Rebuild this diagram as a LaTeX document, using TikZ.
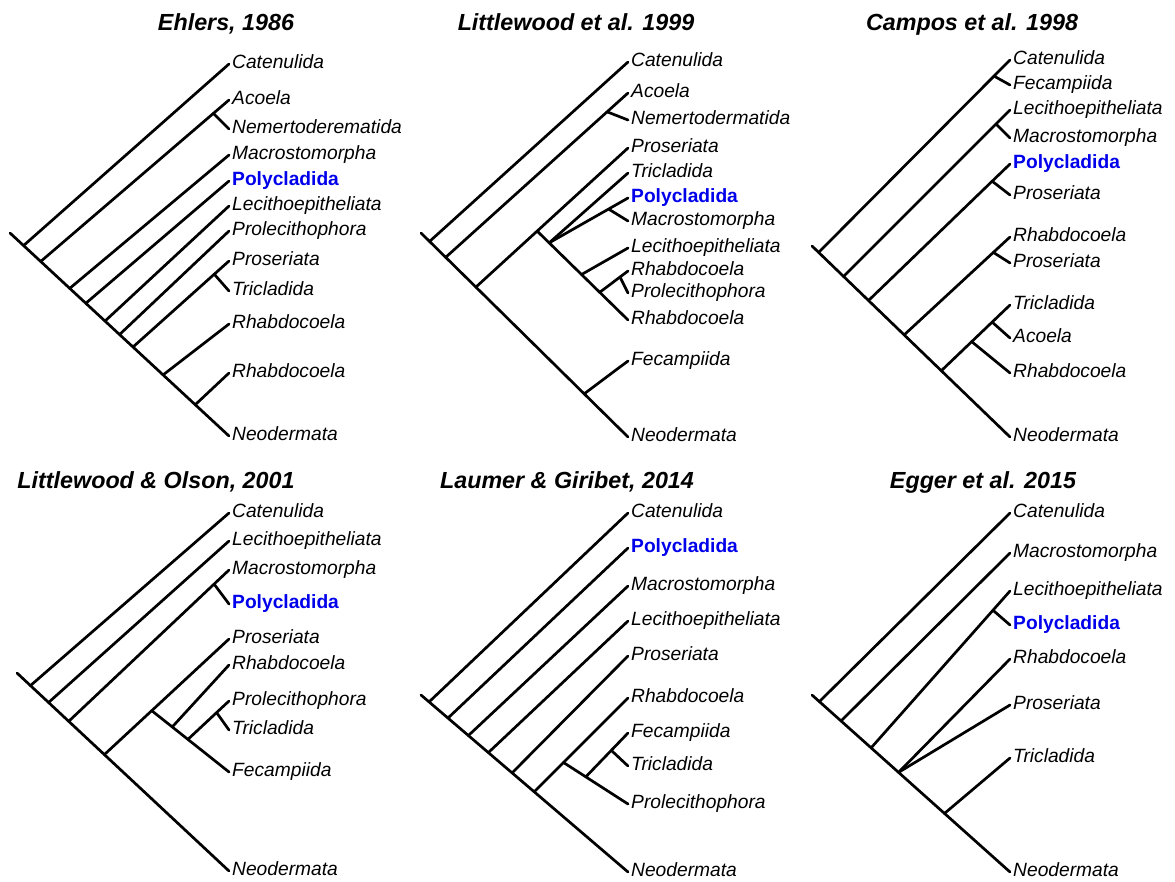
\documentclass[tikz,border=0pt]{standalone}
\usepackage{fontspec}
\setmainfont{Liberation Sans}
\usepackage{xcolor}
\usepackage{tikz}
\usetikzlibrary{calc}
\definecolor{polyblue}{RGB}{0,0,235}
\tikzset{
  taxon/.style={anchor=west, inner xsep=3pt, inner ysep=0pt, text height=13.8pt, text depth=4pt, font=\fontsize{19.2}{23}\selectfont\itshape},
  focal/.style={taxon, text=polyblue, font=\fontsize{19.2}{23}\selectfont\bfseries},
  study/.style={inner sep=0pt, text height=16.8pt, text depth=0pt, font=\fontsize{23.3}{28}\selectfont\bfseries\itshape},
  branch/.style={line width=2.7pt, line cap=round, line join=round},
}
\begin{document}
\begin{tikzpicture}[x=1pt, y=-1pt]
  \useasboundingbox (0,0) rectangle (1175,881);

  % Ehlers, 1986
  \node[study] (a-ttl) at (226,22) {Ehlers, 1986};
  \coordinate (a-root) at (10,233);
  \node[taxon] (a-cat) at (229,64) {Catenulida};
  \node[taxon] (a-aco) at (229,100) {Acoela};
  \node[taxon] (a-nem) at (229,129) {Nemertoderematida};
  \node[taxon] (a-mac) at (229,155) {Macrostomorpha};
  \node[focal] (a-pol) at (229,181) {Polycladida};
  \node[taxon] (a-lec) at (229,206) {Lecithoepitheliata};
  \node[taxon] (a-prl) at (229,231) {Prolecithophora};
  \node[taxon] (a-pro) at (229,261) {Proseriata};
  \node[taxon] (a-tri) at (229,291) {Tricladida};
  \node[taxon] (a-rh1) at (229,324) {Rhabdocoela};
  \node[taxon] (a-rh2) at (229,373) {Rhabdocoela};
  \node[taxon] (a-neo) at (229,436) {Neodermata};
  \coordinate (a1) at ($(a-root)!(25,244)!(a-neo.west)$);
  \coordinate (a2) at ($(a-root)!(43,259)!(a-neo.west)$);
  \coordinate (a3) at ($(a-root)!(71,287)!(a-neo.west)$);
  \coordinate (a4) at ($(a-root)!(87,302)!(a-neo.west)$);
  \coordinate (a5) at ($(a-root)!(106,320)!(a-neo.west)$);
  \coordinate (a6) at ($(a-root)!(121,333)!(a-neo.west)$);
  \coordinate (a7) at ($(a-root)!(133,347)!(a-neo.west)$);
  \coordinate (a8) at ($(a-root)!(163,375)!(a-neo.west)$);
  \coordinate (a9) at ($(a-root)!(195,405)!(a-neo.west)$);
  \coordinate (a-an) at ($(a2)!(213,113)!(a-aco.west)$);
  \coordinate (a-pt) at ($(a7)!(215,275)!(a-pro.west)$);
  \draw[branch] (a-root) -- (a-neo.west);
  \draw[branch] (a1) -- (a-cat.west);
  \draw[branch] (a2) -- (a-aco.west);
  \draw[branch] (a-an) -- (a-nem.west);
  \draw[branch] (a3) -- (a-mac.west);
  \draw[branch] (a4) -- (a-pol.west);
  \draw[branch] (a5) -- (a-lec.west);
  \draw[branch] (a6) -- (a-prl.west);
  \draw[branch] (a7) -- (a-pro.west);
  \draw[branch] (a-pt) -- (a-tri.west);
  \draw[branch] (a8) -- (a-rh1.west);
  \draw[branch] (a9) -- (a-rh2.west);

  % Littlewood et al. 1999
  \node[study] (b-ttl) at (576,22) {Littlewood et al. 1999};
  \coordinate (b-root) at (421,233);
  \node[taxon] (b-cat) at (628,62) {Catenulida};
  \node[taxon] (b-aco) at (628,93) {Acoela};
  \node[taxon] (b-nem) at (628,120) {Nemertodermatida};
  \node[taxon] (b-pro) at (628,148) {Proseriata};
  \node[taxon] (b-tri) at (628,173) {Tricladida};
  \node[focal] (b-pol) at (628,198) {Polycladida};
  \node[taxon] (b-mac) at (628,221) {Macrostomorpha};
  \node[taxon] (b-lec) at (628,248) {Lecithoepitheliata};
  \node[taxon] (b-rh1) at (628,271) {Rhabdocoela};
  \node[taxon] (b-prl) at (628,293) {Prolecithophora};
  \node[taxon] (b-rh2) at (628,320) {Rhabdocoela};
  \node[taxon] (b-fec) at (628,361) {Fecampiida};
  \node[taxon] (b-neo) at (628,437) {Neodermata};
  \coordinate (b1) at ($(b-root)!(430,241)!(b-neo.west)$);
  \coordinate (b2) at ($(b-root)!(446,257)!(b-neo.west)$);
  \coordinate (b3) at ($(b-root)!(476,287)!(b-neo.west)$);
  \coordinate (b8) at ($(b-root)!(585,393)!(b-neo.west)$);
  \coordinate (b-an) at ($(b2)!(610,115)!(b-aco.west)$);
  \coordinate (b4) at ($(b3)!(538,232)!(b-pro.west)$);
  \coordinate (b5) at ($(b4)!(550,242)!(b-rh2.west)$);
  \coordinate (b6) at ($(b4)!(583,273)!(b-rh2.west)$);
  \coordinate (b7) at ($(b4)!(602,290)!(b-rh2.west)$);
  \coordinate (b-pm) at ($(b5)!(608,208)!(b-pol.west)$);
  \coordinate (b-rp) at ($(b7)!(620,277)!(b-rh1.west)$);
  \draw[branch] (b-root) -- (b-neo.west);
  \draw[branch] (b1) -- (b-cat.west);
  \draw[branch] (b2) -- (b-aco.west);
  \draw[branch] (b-an) -- (b-nem.west);
  \draw[branch] (b3) -- (b-pro.west);
  \draw[branch] (b4) -- (b-rh2.west);
  \draw[branch] (b5) -- (b-tri.west);
  \draw[branch] (b5) -- (b-pol.west);
  \draw[branch] (b-pm) -- (b-mac.west);
  \draw[branch] (b6) -- (b-lec.west);
  \draw[branch] (b7) -- (b-rh1.west);
  \draw[branch] (b-rp) -- (b-prl.west);
  \draw[branch] (b8) -- (b-fec.west);

  % Campos et al. 1998
  \node[study] (c-ttl) at (972,22) {Campos et al. 1998};
  \coordinate (c-root) at (812,246);
  \node[taxon] (c-cat) at (1010,60) {Catenulida};
  \node[taxon] (c-fec) at (1010,85) {Fecampiida};
  \node[taxon] (c-lec) at (1010,110) {Lecithoepitheliata};
  \node[taxon] (c-mac) at (1010,138) {Macrostomorpha};
  \node[focal] (c-pol) at (1010,164) {Polycladida};
  \node[taxon] (c-pr1) at (1010,195) {Proseriata};
  \node[taxon] (c-rh1) at (1010,237) {Rhabdocoela};
  \node[taxon] (c-pr2) at (1010,263) {Proseriata};
  \node[taxon] (c-tri) at (1010,305) {Tricladida};
  \node[taxon] (c-aco) at (1010,338) {Acoela};
  \node[taxon] (c-rh2) at (1010,373) {Rhabdocoela};
  \node[taxon] (c-neo) at (1010,437) {Neodermata};
  \coordinate (c1) at ($(c-root)!(819,252)!(c-neo.west)$);
  \coordinate (c2) at ($(c-root)!(844,276)!(c-neo.west)$);
  \coordinate (c3) at ($(c-root)!(869,300)!(c-neo.west)$);
  \coordinate (c4) at ($(c-root)!(905,334)!(c-neo.west)$);
  \coordinate (c5) at ($(c-root)!(942,370)!(c-neo.west)$);
  \coordinate (c-cf) at ($(c1)!(994,76)!(c-cat.west)$);
  \coordinate (c-lm) at ($(c2)!(995,123)!(c-lec.west)$);
  \coordinate (c-pp) at ($(c3)!(991,180)!(c-pol.west)$);
  \coordinate (c-rp) at ($(c4)!(993,252)!(c-rh1.west)$);
  \coordinate (c6) at ($(c5)!(973,343)!(c-tri.west)$);
  \coordinate (c7) at ($(c5)!(993,323)!(c-tri.west)$);
  \draw[branch] (c-root) -- (c-neo.west);
  \draw[branch] (c1) -- (c-cat.west);
  \draw[branch] (c-cf) -- (c-fec.west);
  \draw[branch] (c2) -- (c-lec.west);
  \draw[branch] (c-lm) -- (c-mac.west);
  \draw[branch] (c3) -- (c-pol.west);
  \draw[branch] (c-pp) -- (c-pr1.west);
  \draw[branch] (c4) -- (c-rh1.west);
  \draw[branch] (c-rp) -- (c-pr2.west);
  \draw[branch] (c5) -- (c-tri.west);
  \draw[branch] (c6) -- (c-rh2.west);
  \draw[branch] (c7) -- (c-aco.west);

  % Littlewood & Olson, 2001
  \node[study] (d-ttl) at (156,480) {Littlewood \& Olson, 2001};
  \coordinate (d-root) at (17,673);
  \node[taxon] (d-cat) at (229,513) {Catenulida};
  \node[taxon] (d-lec) at (229,541) {Lecithoepitheliata};
  \node[taxon] (d-mac) at (229,570) {Macrostomorpha};
  \node[focal] (d-pol) at (229,604) {Polycladida};
  \node[taxon] (d-pro) at (229,639) {Proseriata};
  \node[taxon] (d-rha) at (229,665) {Rhabdocoela};
  \node[taxon] (d-prl) at (229,701) {Prolecithophora};
  \node[taxon] (d-tri) at (229,730) {Tricladida};
  \node[taxon] (d-fec) at (229,772) {Fecampiida};
  \node[taxon] (d-neo) at (229,871) {Neodermata};
  \coordinate (d1) at ($(d-root)!(31,685)!(d-neo.west)$);
  \coordinate (d2) at ($(d-root)!(49,702)!(d-neo.west)$);
  \coordinate (d3) at ($(d-root)!(69,721)!(d-neo.west)$);
  \coordinate (d4) at ($(d-root)!(104,755)!(d-neo.west)$);
  \coordinate (d-mp) at ($(d3)!(215,585)!(d-mac.west)$);
  \coordinate (d5) at ($(d4)!(153,712)!(d-pro.west)$);
  \coordinate (d6) at ($(d5)!(173,726)!(d-fec.west)$);
  \coordinate (d7) at ($(d5)!(189,738)!(d-fec.west)$);
  \coordinate (d-pt) at ($(d7)!(217,713)!(d-prl.west)$);
  \draw[branch] (d-root) -- (d-neo.west);
  \draw[branch] (d1) -- (d-cat.west);
  \draw[branch] (d2) -- (d-lec.west);
  \draw[branch] (d3) -- (d-mac.west);
  \draw[branch] (d-mp) -- (d-pol.west);
  \draw[branch] (d4) -- (d-pro.west);
  \draw[branch] (d5) -- (d-fec.west);
  \draw[branch] (d6) -- (d-rha.west);
  \draw[branch] (d7) -- (d-prl.west);
  \draw[branch] (d-pt) -- (d-tri.west);

  % Laumer & Giribet, 2014
  \node[study] (e-ttl) at (567,480) {Laumer \& Giribet, 2014};
  \coordinate (e-root) at (421,695);
  \node[taxon] (e-cat) at (628,513) {Catenulida};
  \node[focal] (e-pol) at (628,548) {Polycladida};
  \node[taxon] (e-mac) at (628,586) {Macrostomorpha};
  \node[taxon] (e-lec) at (628,621) {Lecithoepitheliata};
  \node[taxon] (e-pro) at (628,656) {Proseriata};
  \node[taxon] (e-rha) at (628,698) {Rhabdocoela};
  \node[taxon] (e-fec) at (628,733) {Fecampiida};
  \node[taxon] (e-tri) at (628,766) {Tricladida};
  \node[taxon] (e-prl) at (628,804) {Prolecithophora};
  \node[taxon] (e-neo) at (628,872) {Neodermata};
  \coordinate (e1) at ($(e-root)!(429,702)!(e-neo.west)$);
  \coordinate (e2) at ($(e-root)!(448,718)!(e-neo.west)$);
  \coordinate (e3) at ($(e-root)!(468,736)!(e-neo.west)$);
  \coordinate (e4) at ($(e-root)!(488,753)!(e-neo.west)$);
  \coordinate (e5) at ($(e-root)!(512,773)!(e-neo.west)$);
  \coordinate (e6) at ($(e-root)!(534,792)!(e-neo.west)$);
  \coordinate (e7) at ($(e6)!(564,763)!(e-rha.west)$);
  \coordinate (e8) at ($(e7)!(587,775)!(e-prl.west)$);
  \coordinate (e-ft) at ($(e8)!(613,752)!(e-fec.west)$);
  \draw[branch] (e-root) -- (e-neo.west);
  \draw[branch] (e1) -- (e-cat.west);
  \draw[branch] (e2) -- (e-pol.west);
  \draw[branch] (e3) -- (e-mac.west);
  \draw[branch] (e4) -- (e-lec.west);
  \draw[branch] (e5) -- (e-pro.west);
  \draw[branch] (e6) -- (e-rha.west);
  \draw[branch] (e7) -- (e-prl.west);
  \draw[branch] (e8) -- (e-fec.west);
  \draw[branch] (e-ft) -- (e-tri.west);

  % Egger et al. 2015
  \node[study] (f-ttl) at (983,480) {Egger et al. 2015};
  \coordinate (f-root) at (812,695);
  \node[taxon] (f-cat) at (1010,513) {Catenulida};
  \node[taxon] (f-mac) at (1010,553) {Macrostomorpha};
  \node[taxon] (f-lec) at (1010,591) {Lecithoepitheliata};
  \node[focal] (f-pol) at (1010,625) {Polycladida};
  \node[taxon] (f-rha) at (1010,659) {Rhabdocoela};
  \node[taxon] (f-pro) at (1010,705) {Proseriata};
  \node[taxon] (f-tri) at (1010,758) {Tricladida};
  \node[taxon] (f-neo) at (1010,872) {Neodermata};
  \coordinate (f1) at ($(f-root)!(819,702)!(f-neo.west)$);
  \coordinate (f2) at ($(f-root)!(841,721)!(f-neo.west)$);
  \coordinate (f3) at ($(f-root)!(871,748)!(f-neo.west)$);
  \coordinate (f4) at ($(f-root)!(898,773)!(f-neo.west)$);
  \coordinate (f5) at ($(f-root)!(944,814)!(f-neo.west)$);
  \coordinate (f-lp) at ($(f3)!(995,612)!(f-lec.west)$);
  \draw[branch] (f-root) -- (f-neo.west);
  \draw[branch] (f1) -- (f-cat.west);
  \draw[branch] (f2) -- (f-mac.west);
  \draw[branch] (f3) -- (f-lec.west);
  \draw[branch] (f-lp) -- (f-pol.west);
  \draw[branch] (f4) -- (f-rha.west);
  \draw[branch] (f4) -- (f-pro.west);
  \draw[branch] (f5) -- (f-tri.west);
\end{tikzpicture}
\end{document}
